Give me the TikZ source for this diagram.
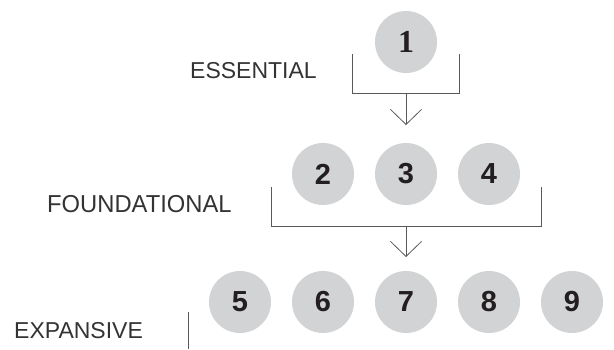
\documentclass[tikz,border=0pt]{standalone}
\usepackage{fontspec}
\setmainfont{Liberation Sans}
\newfontfamily\serifnum{Liberation Serif}
\usetikzlibrary{arrows.meta}
\definecolor{circfill}{HTML}{D1D3D4}
\definecolor{digit}{HTML}{231F20}
\definecolor{linec}{HTML}{58595B}
\definecolor{labelc}{HTML}{333333}
\begin{document}
\begin{tikzpicture}[x=1pt,y=-1pt,
  circ/.style={circle,fill=circfill,minimum size=62pt,inner sep=0pt,text=digit,font=\fontsize{29}{29}\selectfont\bfseries},
  lvl/.style={anchor=base west,inner sep=0pt,text=labelc,font=\fontsize{23}{23}\selectfont},
  bracket/.style={draw=linec,line width=0.8pt},
  arr/.style={draw=linec,line width=0.8pt,-{Straight Barb[length=15pt,width=31pt,line width=0.8pt]}}]
\useasboundingbox (0,0) rectangle (614,349);
% labels
\node[lvl] (lab1) at (190,78) {ESSENTIAL};
\node[lvl] (lab2) at (47,212) {\scalebox{0.97}[1]{\fontsize{24.5}{24.5}\selectfont FOUNDATIONAL}};
\node[lvl] (lab3) at (14,338) {EXPANSIVE};
% circles
\node[circ] (n1) at (406,42) {\serifnum\fontsize{32}{32}\selectfont\bfseries 1};
\node[circ] (n2) at (323,174) {2};
\node[circ] (n3) at (406,174) {3};
\node[circ] (n4) at (489,174) {4};
\node[circ] (n5) at (240,302) {5};
\node[circ] (n6) at (323,302) {6};
\node[circ] (n7) at (406,302) {7};
\node[circ] (n8) at (489,302) {8};
\node[circ] (n9) at (572,302) {9};
% bracket 1
\coordinate (b1tl) at (352,54);
\coordinate (b1bl) at (352,93);
\coordinate (b1br) at (459,93);
\coordinate (b1tr) at (459,54);
\coordinate (b1m) at (406,93);
\coordinate (a1) at (406,125);
\draw[bracket] (b1tl) -- (b1bl) -- (b1br) -- (b1tr);
\draw[arr] (b1m) -- (a1);
% bracket 2
\coordinate (b2tl) at (271,187);
\coordinate (b2bl) at (271,226);
\coordinate (b2br) at (541,226);
\coordinate (b2tr) at (541,187);
\coordinate (b2m) at (406,226);
\coordinate (a2) at (406,257);
\draw[bracket] (b2tl) -- (b2bl) -- (b2br) -- (b2tr);
\draw[arr] (b2m) -- (a2);
% bracket 3 (partial)
\coordinate (b3t) at (188,312);
\coordinate (b3b) at (188,349);
\draw[bracket] (b3t) -- (b3b);
\end{tikzpicture}
\end{document}
